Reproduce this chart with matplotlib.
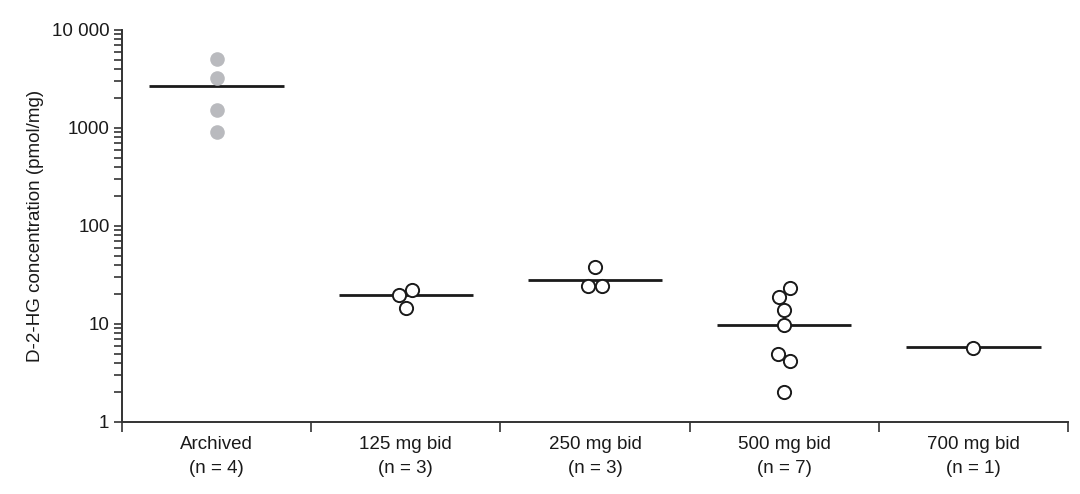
import numpy as np
import matplotlib
matplotlib.use("Agg")
import matplotlib.pyplot as plt
from matplotlib.ticker import FixedLocator, NullFormatter

plt.rcParams['font.family'] = ['Liberation Sans', 'DejaVu Sans']

# ---- data ----
categories = ["Archived\n(n = 4)", "125 mg bid\n(n = 3)", "250 mg bid\n(n = 3)",
              "500 mg bid\n(n = 7)", "700 mg bid\n(n = 1)"]
archived = [5040, 3260, 1530, 905]
dose_125 = [22.2, 19.8, 14.7]
dose_250 = [38.4, 24.6, 24.6]
dose_500 = [23.5, 19.0, 13.9, 9.8, 4.9, 4.2, 2.0]
dose_700 = [5.7]
group_means = [2700, 19.8, 28.0, 9.8, 5.8]
ytick_values = [1, 10, 100, 1000, 10000]
ytick_labels = ["1", "10", "100", "1000", "10 000"]

groups = [archived, dose_125, dose_250, dose_500, dose_700]
filled = [True, False, False, False, False]

W, H, DPI = 1080, 494, 100
FS = 13.5
fig = plt.figure(figsize=(W / DPI, H / DPI), dpi=DPI)
ax = fig.add_axes([122 / W, 1 - 422 / H, (1068 - 122) / W, (422 - 30) / H])
ax.set_yscale('log')
ax.set_ylim(1, 10000)
ax.set_xlim(-0.5, len(categories) - 0.5)

axis_col = '#333333'
text_col = '#1a1a1a'
for s in ['top', 'right']:
    ax.spines[s].set_visible(False)
for s in ['left', 'bottom']:
    ax.spines[s].set_color(axis_col)
    ax.spines[s].set_linewidth(1.4)

# y ticks
ax.yaxis.set_major_locator(FixedLocator(ytick_values))
ax.set_yticklabels(ytick_labels)
minor = [m * 10 ** e for e in range(0, 4) for m in range(2, 10)]
ax.yaxis.set_minor_locator(FixedLocator(minor))
ax.yaxis.set_minor_formatter(NullFormatter())
ax.tick_params(axis='y', which='both', direction='out', length=6, width=1.2,
               color=axis_col, labelsize=FS, labelcolor=text_col, pad=3)

# x ticks: boundaries as major ticks, labels at centres as minor ticks
ax.xaxis.set_major_locator(FixedLocator(np.arange(-0.5, len(categories), 1.0)))
ax.xaxis.set_major_formatter(NullFormatter())
ax.xaxis.set_minor_locator(FixedLocator(np.arange(len(categories))))
ax.set_xticklabels(categories, minor=True)
ax.tick_params(axis='x', which='major', direction='out', length=7, width=1.2, color=axis_col)
ax.tick_params(axis='x', which='minor', length=0, labelsize=FS, labelcolor=text_col, pad=10)
for t in ax.xaxis.get_minorticklabels():
    t.set_linespacing(1.55)

ax.set_ylabel("D-2-HG concentration (pmol/mg)", fontsize=FS, color=text_col, labelpad=6)

# simple swarm offsets computed in display space
diam_px = 14.0
def swarm_offsets(i, vals):
    ys = [ax.transData.transform((i, v))[1] for v in vals]
    offs = [0.0] * len(vals)
    sign = 1.0
    for k in range(1, len(vals)):
        dy = abs(ys[k] - ys[k - 1])
        if dy < diam_px and offs[k - 1] == 0.0:
            dx = np.sqrt(diam_px ** 2 - dy ** 2)
            offs[k - 1] = sign * dx / 2
            offs[k] = -sign * dx / 2
            sign = -sign
    px_per_unit = ax.transData.transform((1, 1))[0] - ax.transData.transform((0, 1))[0]
    return [o / px_per_unit for o in offs]

half_w = 0.355
for i, (vals, m) in enumerate(zip(groups, group_means)):
    ax.plot([i - half_w, i + half_w], [m, m], color=text_col, lw=2.0, zorder=2,
            solid_capstyle='butt')
    offs = swarm_offsets(i, vals)
    xs = [i + o for o in offs]
    if filled[i]:
        ax.plot(xs, vals, 'o', ms=10.5, mfc='#b9babe', mec='none', zorder=3, linestyle='none')
    else:
        ax.plot(xs, vals, 'o', ms=9.5, mfc='white', mec=text_col, mew=1.4, zorder=3,
                linestyle='none')

fig.savefig("out.png", dpi=DPI, facecolor='white')
